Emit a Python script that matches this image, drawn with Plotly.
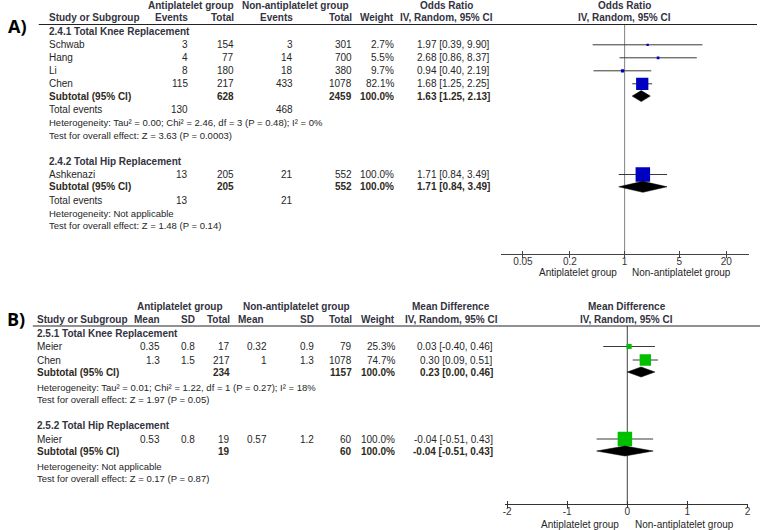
import math
import plotly.graph_objects as go

# ======================= DATA =======================
# ---- Panel A : Odds Ratio (IV, Random, 95% CI) ----
A1_title = "2.4.1 Total Knee Replacement"
A1_studies = ["Schwab", "Hang", "Li", "Chen"]
A1_exp_events = [3, 4, 8, 115]
A1_exp_total = [154, 77, 180, 217]
A1_ctl_events = [3, 14, 18, 433]
A1_ctl_total = [301, 700, 380, 1078]
A1_weight = [2.7, 5.5, 9.7, 82.1]
A1_est = [1.97, 2.68, 0.94, 1.68]
A1_lo = [0.39, 0.86, 0.40, 1.25]
A1_hi = [9.90, 8.37, 2.19, 2.25]
A1_subtotal = [1.63, 1.25, 2.13]          # estimate, lower, upper
A1_sub_n = [628, 2459]
A1_total_events = [130, 468]
A1_het = "Heterogeneity: Tau² = 0.00; Chi² = 2.46, df = 3 (P = 0.48); I² = 0%"
A1_test = "Test for overall effect: Z = 3.63 (P = 0.0003)"

A2_title = "2.4.2 Total Hip Replacement"
A2_studies = ["Ashkenazi"]
A2_exp_events = [13]
A2_exp_total = [205]
A2_ctl_events = [21]
A2_ctl_total = [552]
A2_weight = [100.0]
A2_est = [1.71]
A2_lo = [0.84]
A2_hi = [3.49]
A2_subtotal = [1.71, 0.84, 3.49]
A2_sub_n = [205, 552]
A2_total_events = [13, 21]
A2_het = "Heterogeneity: Not applicable"
A2_test = "Test for overall effect: Z = 1.48 (P = 0.14)"

A_ticks = [0.05, 0.2, 1, 5, 20]
A_tick_labels = ["0.05", "0.2", "1", "5", "20"]

# ---- Panel B : Mean Difference (IV, Random, 95% CI) ----
B1_title = "2.5.1 Total Knee Replacement"
B1_studies = ["Meier", "Chen"]
B1_exp_mean = [0.35, 1.3]
B1_exp_sd = [0.8, 1.5]
B1_exp_total = [17, 217]
B1_ctl_mean = [0.32, 1]
B1_ctl_sd = [0.9, 1.3]
B1_ctl_total = [79, 1078]
B1_weight = [25.3, 74.7]
B1_est = [0.03, 0.30]
B1_lo = [-0.40, 0.09]
B1_hi = [0.46, 0.51]
B1_subtotal = [0.23, 0.00, 0.46]
B1_sub_n = [234, 1157]
B1_het = "Heterogeneity: Tau² = 0.01; Chi² = 1.22, df = 1 (P = 0.27); I² = 18%"
B1_test = "Test for overall effect: Z = 1.97 (P = 0.05)"

B2_title = "2.5.2 Total Hip Replacement"
B2_studies = ["Meier"]
B2_exp_mean = [0.53]
B2_exp_sd = [0.8]
B2_exp_total = [19]
B2_ctl_mean = [0.57]
B2_ctl_sd = [1.2]
B2_ctl_total = [60]
B2_weight = [100.0]
B2_est = [-0.04]
B2_lo = [-0.51]
B2_hi = [0.43]
B2_subtotal = [-0.04, -0.51, 0.43]
B2_sub_n = [19, 60]
B2_het = "Heterogeneity: Not applicable"
B2_test = "Test for overall effect: Z = 0.17 (P = 0.87)"

B_ticks = [-2, -1, 0, 1, 2]
B_tick_labels = ["-2", "-1", "0", "1", "2"]

# ======================= STYLE / LAYOUT =======================
W, H = 764, 530
FONT = "Liberation Sans, Arial, sans-serif"
FS = 10
FS_NOTE = 9.5
TXT = "#262626"
HEAD_C = "#33333f"
SUB_C = "#2e2a22"
CI_C = "#3a3a3a"

ann, shapes, traces = [], [], []


def px(x):
    return x / W


def py(y):
    return 1 - y / H


def T(x, y, s, anchor="left", bold=False, color=TXT, size=FS, family=FONT):
    ann.append(dict(x=px(x), y=py(y), xref="paper", yref="paper",
                    text=(f"<b>{s}</b>" if bold else s), showarrow=False,
                    xanchor=anchor, yanchor="middle",
                    font=dict(family=family, size=size, color=color)))


def hline(x0, x1, y, color="#222", w=1):
    shapes.append(dict(type="line", xref="paper", yref="paper",
                       x0=px(x0), x1=px(x1), y0=py(y), y1=py(y),
                       line=dict(color=color, width=w)))


def fmt(v):
    return f"{v:g}"


def est_txt(e, l, h):
    return f"{e:.2f} [{l:.2f}, {h:.2f}]"


def forest(xa, ya, ys, est, lo, hi, weight, color):
    xs, yy = [], []
    for y, l, h in zip(ys, lo, hi):
        xs += [l, h, None]
        yy += [y, y, None]
    traces.append(go.Scatter(x=xs, y=yy, mode="lines", line=dict(color=CI_C, width=1),
                             xaxis=xa, yaxis=ya, hoverinfo="skip"))
    traces.append(go.Scatter(x=est, y=ys, mode="markers",
                             marker=dict(symbol="square", size=[2 + 12.5 * w / 100 for w in weight],
                                         color=color, opacity=1, line=dict(width=0)),
                             xaxis=xa, yaxis=ya, hoverinfo="skip"))


def diamond(xa, ya, y, sub, half):
    e, l, h = sub
    traces.append(go.Scatter(x=[l, e, h, e, l], y=[y, y - half, y, y + half, y],
                             mode="lines", fill="toself", fillcolor="black",
                             line=dict(color="black", width=0.5),
                             xaxis=xa, yaxis=ya, hoverinfo="skip"))


# ---------------- Panel A ----------------
A_cols = dict(label=45, ev1=189, tot1=236, ev2=295, tot2=354, wt=397, est=493)
A_null_x = 627
A_line_y, A_axis_y = 24.5, 254

T(4, 26, "A)", bold=True, size=18, color="#000", family="Open Sans, Liberation Sans, sans-serif")
T(190, 6, "Antiplatelet group", "center", True, HEAD_C)
T(295, 6, "Non-antiplatelet group", "center", True, HEAD_C)
T(447, 6, "Odds Ratio", "center", True, HEAD_C)
T(A_null_x, 6, "Odds Ratio", "center", True, HEAD_C)
T(A_cols["label"], 18, "Study or Subgroup", "left", True, HEAD_C)
T(A_cols["ev1"], 18, "Events", "right", True, HEAD_C)
T(A_cols["tot1"], 18, "Total", "right", True, HEAD_C)
T(A_cols["ev2"], 18, "Events", "right", True, HEAD_C)
T(A_cols["tot2"], 18, "Total", "right", True, HEAD_C)
T(A_cols["wt"], 18, "Weight", "right", True, HEAD_C)
T(447, 18, "IV, Random, 95% CI", "center", True, HEAD_C)
T(A_null_x, 18, "IV, Random, 95% CI", "center", True, HEAD_C)
hline(37, 760, A_line_y)

A_groups = [
    (A1_title, A1_studies, A1_exp_events, A1_exp_total, A1_ctl_events, A1_ctl_total,
     A1_weight, A1_est, A1_lo, A1_hi, A1_subtotal, A1_sub_n, A1_total_events, A1_het, A1_test),
    (A2_title, A2_studies, A2_exp_events, A2_exp_total, A2_ctl_events, A2_ctl_total,
     A2_weight, A2_est, A2_lo, A2_hi, A2_subtotal, A2_sub_n, A2_total_events, A2_het, A2_test),
]
# vertical no-effect line
traces.append(go.Scatter(x=[1, 1], y=[A_line_y, A_axis_y], mode="lines",
                         line=dict(color="#808080", width=1), xaxis="x", yaxis="y", hoverinfo="skip"))
y = 32
for (title, st, ee, et, ce, ct, wt, es, lo, hi, sub, sn, te, het, test) in A_groups:
    c = A_cols
    T(c["label"], y, title, "left", True, HEAD_C)
    y += 12.8
    ys = []
    for i, s in enumerate(st):
        T(c["label"], y, s)
        T(c["ev1"], y, str(ee[i]), "right")
        T(c["tot1"], y, str(et[i]), "right")
        T(c["ev2"], y, str(ce[i]), "right")
        T(c["tot2"], y, str(ct[i]), "right")
        T(c["wt"], y, f"{wt[i]:.1f}%", "right")
        T(c["est"], y, est_txt(es[i], lo[i], hi[i]), "right")
        ys.append(y)
        y += 13
    y -= 0.7
    forest("x", "y", ys, es, lo, hi, wt, "#0000c0")
    T(c["label"], y, "Subtotal (95% CI)", "left", True, SUB_C)
    T(c["tot1"], y, str(sn[0]), "right", True, SUB_C)
    T(c["tot2"], y, str(sn[1]), "right", True, SUB_C)
    T(c["wt"], y, "100.0%", "right", True, SUB_C)
    T(c["est"], y, est_txt(*sub), "right", True, SUB_C)
    diamond("x", "y", y, sub, 5.5)
    y += 13.5
    T(c["label"], y, "Total events")
    T(c["ev1"], y, str(te[0]), "right")
    T(c["ev2"], y, str(te[1]), "right")
    y += 12.8
    T(c["label"], y, het, size=FS_NOTE)
    y += 12.8
    T(c["label"], y, test, size=FS_NOTE)
    y += 26.5

T(621, 272, "Antiplatelet group", "right")
T(632, 272, "Non-antiplatelet group", "left")

# ---------------- Panel B ----------------
B_cols = dict(label=33, m1=161.5, sd1=196.5, tot1=232, m2=269, sd2=316, tot2=354, wt=398, est=496)
B_null_x = 629
B_line_y, B_axis_y = 326, 504

T(3, 319, "B)", bold=True, size=18, color="#000", family="Open Sans, Liberation Sans, sans-serif")
T(179, 306.5, "Antiplatelet group", "center", True, HEAD_C)
T(296, 306.5, "Non-antiplatelet group", "center", True, HEAD_C)
T(452, 306.5, "Mean Difference", "center", True, HEAD_C)
T(B_null_x, 306.5, "Mean Difference", "center", True, HEAD_C)
hy = 319.5
T(B_cols["label"], hy, "Study or Subgroup", "left", True, HEAD_C)
T(B_cols["m1"], hy, "Mean", "right", True, HEAD_C)
T(B_cols["sd1"], hy, "SD", "right", True, HEAD_C)
T(B_cols["tot1"], hy, "Total", "right", True, HEAD_C)
T(B_cols["m2"] - 3, hy, "Mean", "right", True, HEAD_C)
T(B_cols["sd2"], hy, "SD", "right", True, HEAD_C)
T(B_cols["tot2"], hy, "Total", "right", True, HEAD_C)
T(B_cols["wt"], hy, "Weight", "right", True, HEAD_C)
T(452, hy, "IV, Random, 95% CI", "center", True, HEAD_C)
T(B_null_x, hy, "IV, Random, 95% CI", "center", True, HEAD_C)
hline(31, 763, B_line_y)

B_groups = [
    (B1_title, B1_studies, B1_exp_mean, B1_exp_sd, B1_exp_total, B1_ctl_mean, B1_ctl_sd, B1_ctl_total,
     B1_weight, B1_est, B1_lo, B1_hi, B1_subtotal, B1_sub_n, B1_het, B1_test),
    (B2_title, B2_studies, B2_exp_mean, B2_exp_sd, B2_exp_total, B2_ctl_mean, B2_ctl_sd, B2_ctl_total,
     B2_weight, B2_est, B2_lo, B2_hi, B2_subtotal, B2_sub_n, B2_het, B2_test),
]
traces.append(go.Scatter(x=[0, 0], y=[B_line_y, B_axis_y], mode="lines",
                         line=dict(color="#404040", width=1), xaxis="x2", yaxis="y2", hoverinfo="skip"))
y = 333
for (title, st, m1, s1, n1, m2, s2, n2, wt, es, lo, hi, sub, sn, het, test) in B_groups:
    c = B_cols
    T(c["label"], y, title, "left", True, HEAD_C)
    y += 13.5
    ys = []
    for i, s in enumerate(st):
        T(c["label"], y, s)
        T(c["m1"], y, fmt(m1[i]), "right")
        T(c["sd1"], y, fmt(s1[i]), "right")
        T(c["tot1"], y, str(n1[i]), "right")
        T(c["m2"], y, fmt(m2[i]), "right")
        T(c["sd2"], y, fmt(s2[i]), "right")
        T(c["tot2"], y, str(n2[i]), "right")
        T(c["wt"], y, f"{wt[i]:.1f}%", "right")
        T(c["est"], y, est_txt(es[i], lo[i], hi[i]), "right")
        ys.append(y)
        y += 13.5
    y -= 1.5
    forest("x2", "y2", ys, es, lo, hi, wt, "#00c000")
    T(c["label"], y, "Subtotal (95% CI)", "left", True, SUB_C)
    T(c["tot1"], y, str(sn[0]), "right", True, SUB_C)
    T(c["tot2"], y, str(sn[1]), "right", True, SUB_C)
    T(c["wt"], y, "100.0%", "right", True, SUB_C)
    T(c["est"], y, est_txt(*sub), "right", True, SUB_C)
    diamond("x2", "y2", y, sub, 5.0)
    y += 15
    T(c["label"], y, het, size=FS_NOTE)
    y += 12
    T(c["label"], y, test, size=FS_NOTE)
    y += 26.5

T(623, 524, "Antiplatelet group", "right")
T(635, 524, "Non-antiplatelet group", "left")

# dummy traces to attach the tick-overlay axes
traces.append(go.Scatter(x=[], y=[], xaxis="x3", yaxis="y", hoverinfo="skip"))
traces.append(go.Scatter(x=[], y=[], xaxis="x4", yaxis="y2", hoverinfo="skip"))

A_range = [-1.576, 1.588]
B_range = [-2.04, 2.01]
tickfont = dict(family=FONT, size=FS, color="#333")

fig = go.Figure(traces)
fig.update_layout(
    width=W, height=H, margin=dict(l=0, r=0, t=0, b=0),
    paper_bgcolor="white", plot_bgcolor="rgba(0,0,0,0)", showlegend=False,
    xaxis=dict(domain=[502.7 / W, 751.7 / W], anchor="y", type="log", range=A_range,
               tickvals=A_ticks, ticktext=A_tick_labels, ticks="outside", ticklen=3,
               tickcolor="#444", showline=True, linecolor="#444", linewidth=1,
               ticklabelstandoff=-5,
               showgrid=False, zeroline=False, tickfont=tickfont, fixedrange=True),
    xaxis3=dict(overlaying="x", anchor="y", type="log", range=A_range, tickvals=A_ticks,
                ticks="inside", ticklen=3, tickcolor="#444", showticklabels=False,
                showline=False, showgrid=False, zeroline=False, fixedrange=True),
    yaxis=dict(domain=[1 - A_axis_y / H, 1], range=[A_axis_y, 0], visible=False, fixedrange=True),
    xaxis2=dict(domain=[506 / W, 751 / W], anchor="y2", range=B_range,
                tickvals=B_ticks, ticktext=B_tick_labels, ticks="outside", ticklen=3,
                tickcolor="#333", showline=True, linecolor="#333", linewidth=1,
                ticklabelstandoff=-5,
                showgrid=False, zeroline=False, tickfont=tickfont, fixedrange=True),
    xaxis4=dict(overlaying="x2", anchor="y2", range=B_range, tickvals=B_ticks,
                ticks="inside", ticklen=3, tickcolor="#333", showticklabels=False,
                showline=False, showgrid=False, zeroline=False, fixedrange=True),
    yaxis2=dict(domain=[1 - B_axis_y / H, 1 - 285 / H], range=[B_axis_y, 285], visible=False,
                fixedrange=True),
    annotations=ann, shapes=shapes,
)
fig.write_html("out.html", config={"displayModeBar": False})
